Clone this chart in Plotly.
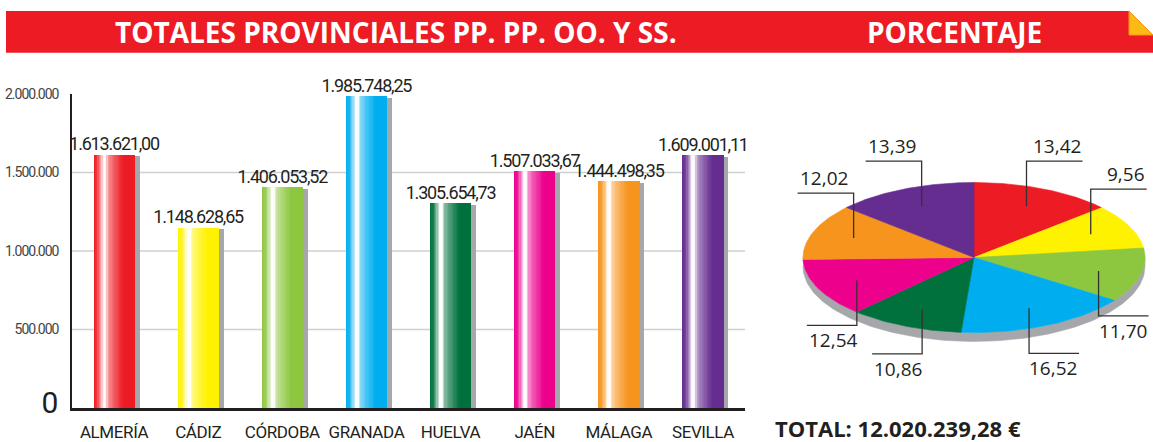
import math
import plotly.graph_objects as go

# ---------------- data ----------------
provincias = ["ALMERÍA", "CÁDIZ", "CÓRDOBA", "GRANADA", "HUELVA", "JAÉN", "MÁLAGA", "SEVILLA"]
totales = [1613621.00, 1148628.65, 1406053.52, 1985748.25, 1305654.73, 1507033.67, 1444498.35, 1609001.11]
colores = ["#ed1c24", "#fff200", "#8dc63f", "#00aeef", "#00703c", "#ec008c", "#f7941d", "#662d91"]
y_ticks = [0, 500000, 1000000, 1500000, 2000000]
titulo_barras = "TOTALES PROVINCIALES PP. PP. OO. Y SS."
titulo_pie = "PORCENTAJE"

# ---------------- layout constants (pixels) ----------------
W, H = 1153, 442
BAR_L, BAR_R = 72, 745
BAR_TOP, BAR_BOT = 94, 408
PIE_L, PIE_R, PIE_T, PIE_B = 760, 1153, 100, 420
PIE_CX, PIE_CY, PIE_RX, PIE_RY = 974, 257.5, 171, 75
PIE_DEPTH = 9
NARROW = "Roboto, Liberation Sans, sans-serif"
HUMAN = "Open Sans, Noto Sans, sans-serif"
INK = "#231f20"
SHADOW = "#a5a7aa"


def px_x(x):
    return x / W


def px_y(y):
    return 1 - y / H


def hex_rgb(c):
    c = c.lstrip("#")
    return tuple(int(c[i:i + 2], 16) for i in (0, 2, 4))


def mix_white(c, t):
    r, g, b = hex_rgb(c)
    return "rgb(%d,%d,%d)" % (round(r + (255 - r) * t), round(g + (255 - g) * t), round(b + (255 - b) * t))


def fmt_es(v, dec):
    s = f"{v:,.{dec}f}"
    return s.replace(",", "X").replace(".", ",").replace("X", ".")


def tight(s, ls):
    return f"<span style='letter-spacing:{ls}px'>{s}</span>"


# highlight profile across the bar width (fraction -> amount of white)
hl_pos = [0.0, 0.08, 0.18, 0.24, 0.29, 0.35, 0.45, 0.60, 0.72, 1.0]
hl_amt = [0.0, 0.10, 0.60, 1.00, 1.00, 0.55, 0.35, 0.15, 0.0, 0.0]


def highlight(f):
    for i in range(len(hl_pos) - 1):
        if hl_pos[i] <= f <= hl_pos[i + 1]:
            t = (f - hl_pos[i]) / (hl_pos[i + 1] - hl_pos[i])
            return hl_amt[i] + (hl_amt[i + 1] - hl_amt[i]) * t
    return 0.0


fig = go.Figure()

slot_px = (BAR_R - BAR_L) / len(provincias)
bw = 41 / slot_px
shadow_dx = 5 / slot_px
units_per_px = (y_ticks[-1] - y_ticks[0]) / (BAR_BOT - BAR_TOP)
shadow_drop = 1.5 * units_per_px

# shadow bars
fig.add_trace(go.Bar(
    x=provincias, y=totales, base=[-shadow_drop] * len(totales),
    width=bw, offset=-bw / 2 + shadow_dx,
    marker=dict(color=SHADOW, line=dict(width=0)),
    hoverinfo="skip", showlegend=False, xaxis="x", yaxis="y",
))

# gradient bars built from overlapping stripes
N = 32
for i in range(N):
    f0 = i / N
    fc = (i + 0.5) / N
    amt = highlight(fc)
    fig.add_trace(go.Bar(
        x=provincias, y=totales,
        width=bw * (1 - f0), offset=-bw / 2 + bw * f0,
        marker=dict(color=[mix_white(c, amt) for c in colores], line=dict(width=0)),
        hoverinfo="skip", showlegend=False, xaxis="x", yaxis="y",
    ))

# value labels
fig.add_trace(go.Scatter(
    x=provincias, y=totales, mode="text",
    text=[tight(fmt_es(v, 2), -1.2) for v in totales], textposition="top center",
    textfont=dict(family=NARROW, size=18, color=INK),
    cliponaxis=False, hoverinfo="skip", showlegend=False, xaxis="x", yaxis="y",
))

# ---------------- pie (tilted) ----------------
total = sum(totales)
pct = [v / total * 100 for v in totales]
x2_range = [(PIE_L - PIE_CX) / PIE_RX, (PIE_R - PIE_CX) / PIE_RX]
y2_range = [(PIE_CY - PIE_B) / PIE_RY, (PIE_CY - PIE_T) / PIE_RY]
depth = PIE_DEPTH / PIE_RY

# side (thickness)
angs = [math.pi + math.pi * k / 120 for k in range(121)]
sx = [math.cos(a) for a in angs] + [math.cos(a) for a in reversed(angs)]
sy = [math.sin(a) for a in angs] + [math.sin(a) - depth for a in reversed(angs)]
fig.add_trace(go.Scatter(x=sx, y=sy, fill="toself", fillcolor=SHADOW, mode="lines",
                         line=dict(width=0.5, color=SHADOW), hoverinfo="skip",
                         showlegend=False, xaxis="x2", yaxis="y2"))

start = 90.0
mids = []
for v, c in zip(pct, colores):
    sweep = v * 3.6
    a0, a1 = start, start - sweep
    n = max(8, int(sweep))
    arc = [math.radians(a0 + (a1 - a0) * k / n) for k in range(n + 1)]
    xs = [0] + [math.cos(a) for a in arc] + [0]
    ys = [0] + [math.sin(a) for a in arc] + [0]
    fig.add_trace(go.Scatter(x=xs, y=ys, fill="toself", fillcolor=c, mode="lines",
                             line=dict(width=0.6, color=c), hoverinfo="skip",
                             showlegend=False, xaxis="x2", yaxis="y2"))
    mids.append(math.radians((a0 + a1) / 2))
    start = a1

# leader lines and labels
R_ANCH = 0.75
V_LEN = 45 / PIE_RY
annotations = []
for m, p in zip(mids, pct):
    ax_, ay_ = R_ANCH * math.cos(m), R_ANCH * math.sin(m)
    up = math.sin(m) > 0
    right = math.cos(m) > 0
    h_len = (56 if up else 50) / PIE_RX
    ey = ay_ + V_LEN if up else ay_ - V_LEN
    ex = ax_ + h_len if right else ax_ - h_len
    fig.add_trace(go.Scatter(x=[ax_, ax_, ex], y=[ay_, ey, ey], mode="lines",
                             line=dict(width=1.3, color="#333333"), hoverinfo="skip",
                             showlegend=False, xaxis="x2", yaxis="y2", cliponaxis=False))
    annotations.append(dict(
        x=ex, y=ey, xref="x2", yref="y2", text=fmt_es(p, 2), showarrow=False,
        xanchor="right" if right else "left", yanchor="bottom" if up else "top",
        font=dict(family=HUMAN, size=19, color=INK),
    ))

# ---------------- header & texts ----------------
shapes = [
    dict(type="rect", xref="paper", yref="paper", x0=px_x(6), x1=px_x(1129), y0=px_y(52.7), y1=px_y(11),
         fillcolor="#ed1c24", line=dict(width=0), layer="above"),
    dict(type="path", xref="paper", yref="paper",
         path=f"M {px_x(1129)} {px_y(11)} L {px_x(1153)} {px_y(35)} L {px_x(1153)} {px_y(52.7)} L {px_x(1129)} {px_y(52.7)} Z",
         fillcolor="#ed1c24", line=dict(width=0), layer="above"),
    dict(type="path", xref="paper", yref="paper",
         path=f"M {px_x(1129)} {px_y(11)} L {px_x(1153)} {px_y(35)} L {px_x(1129)} {px_y(35)} Z",
         fillcolor="#fdba12", line=dict(width=1, color="#f7941d"), layer="above"),
]
for t in y_ticks[1:-1]:
    shapes.append(dict(type="line", xref="x domain", yref="y", x0=0, x1=1, y0=t, y1=t,
                       line=dict(color="#cfcfcf", width=1.6), layer="below"))

annotations += [
    dict(x=px_x(396), y=px_y(32), xref="paper", yref="paper", text=f"<b>{titulo_barras}</b>",
         showarrow=False, xanchor="center", yanchor="middle",
         font=dict(family=HUMAN, size=28, color="white")),
    dict(x=px_x(954), y=px_y(32), xref="paper", yref="paper", text=f"<b>{titulo_pie}</b>",
         showarrow=False, xanchor="center", yanchor="middle",
         font=dict(family=HUMAN, size=28, color="white")),
    dict(x=px_x(773), y=px_y(428), xref="paper", yref="paper",
         text=f"<b>TOTAL: {fmt_es(total, 2)} €</b>",
         showarrow=False, xanchor="left", yanchor="middle",
         font=dict(family=HUMAN, size=22, color=INK)),
]

tick_text = []
for t in y_ticks:
    if t == 0:
        tick_text.append("<span style='font-size:30px;color:#231f20'>0</span>")
    else:
        tick_text.append(tight(fmt_es(t, 0), -1))

fig.update_layout(
    width=W, height=H, margin=dict(l=0, r=0, t=0, b=0, autoexpand=False),
    paper_bgcolor="white", plot_bgcolor="rgba(0,0,0,0)",
    barmode="overlay", bargap=0, showlegend=False,
    separators=",.",
    xaxis=dict(domain=[px_x(BAR_L), px_x(BAR_R)], anchor="y", range=[-0.5, len(provincias) - 0.5],
               showgrid=False, zeroline=False, showline=True, linewidth=3, linecolor=INK,
               ticks="", ticklabelstandoff=7, tickangle=0, automargin=False,
               tickvals=provincias, ticktext=[tight(p, -0.4) for p in provincias],
               tickfont=dict(family=NARROW, size=17, color=INK), fixedrange=True),
    yaxis=dict(domain=[px_y(BAR_BOT), px_y(BAR_TOP)], anchor="x", range=[y_ticks[0], y_ticks[-1]],
               showgrid=False, zeroline=False, showline=True, linewidth=1.5, linecolor=INK,
               tickvals=y_ticks, ticktext=tick_text, ticks="", ticklabelstandoff=9, automargin=False,
               tickfont=dict(family=NARROW, size=14, color="#444444"), fixedrange=True),
    xaxis2=dict(domain=[px_x(PIE_L), px_x(PIE_R)], anchor="y2", range=x2_range, visible=False, fixedrange=True),
    yaxis2=dict(domain=[px_y(PIE_B), px_y(PIE_T)], anchor="x2", range=y2_range, visible=False, fixedrange=True),
    shapes=shapes, annotations=annotations,
)

fig.write_html("out.html", config={"displayModeBar": False},
               post_script="document.body.style.margin='0px';document.body.style.overflow='hidden';")
